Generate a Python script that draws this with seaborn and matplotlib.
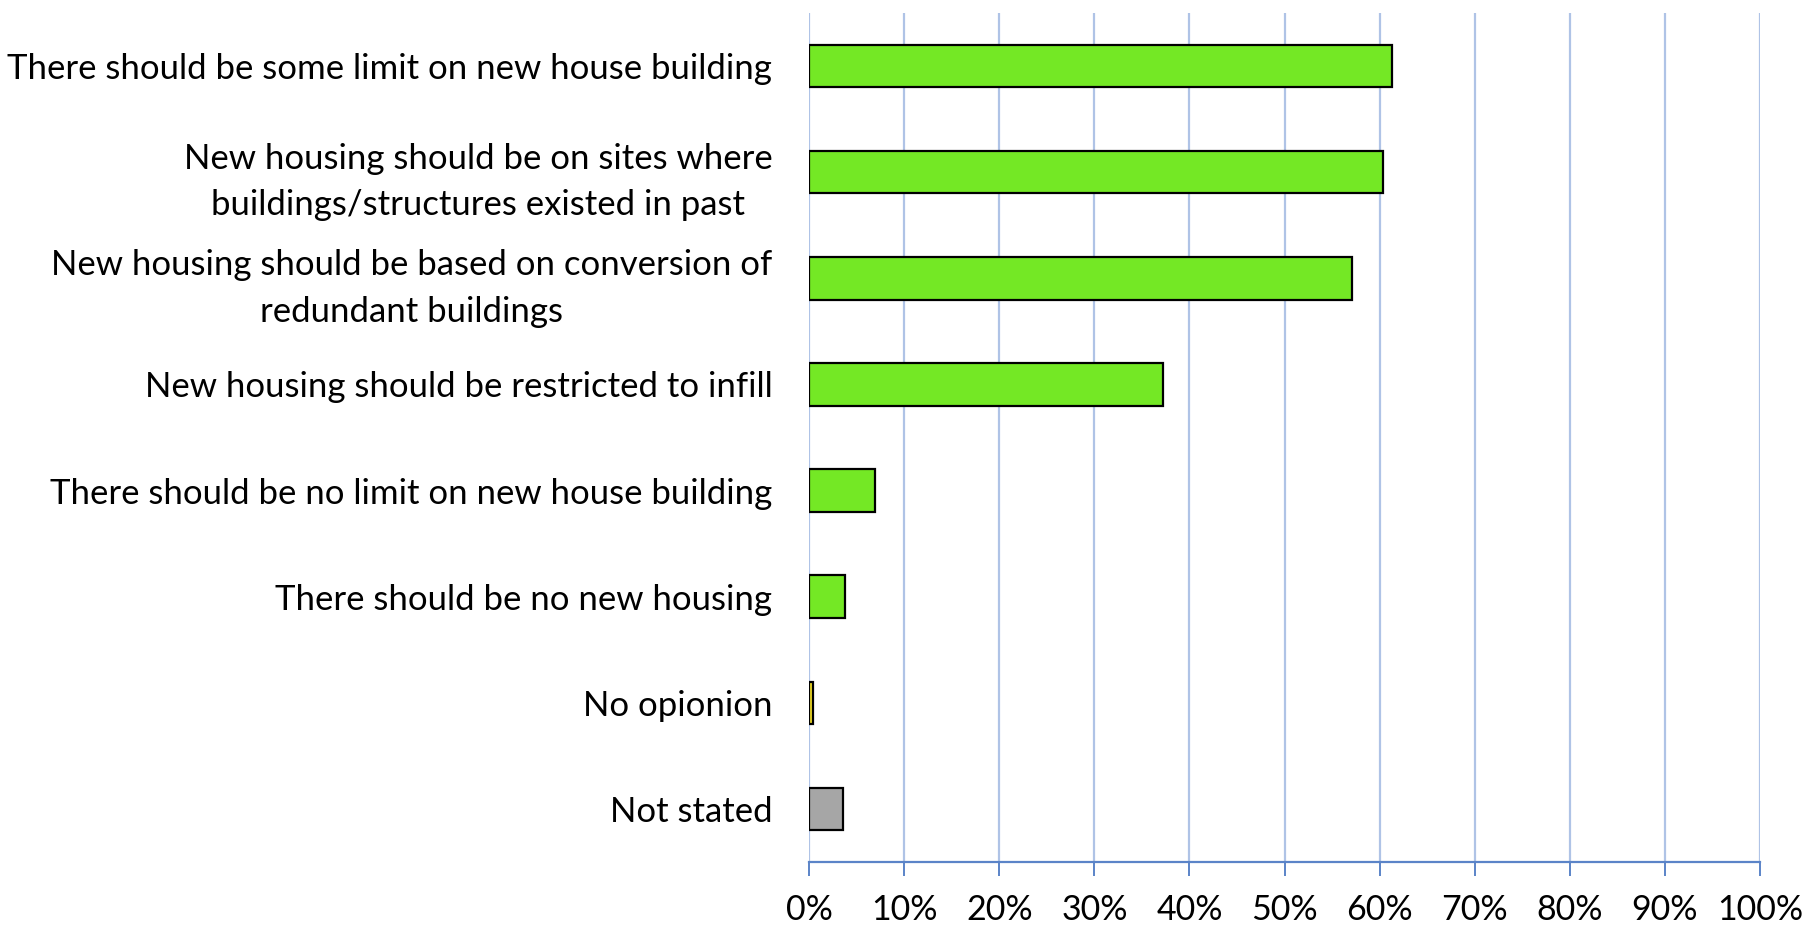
import matplotlib
matplotlib.use("Agg")
import matplotlib.pyplot as plt
import pandas as pd
import seaborn as sns
from matplotlib.ticker import FuncFormatter, MultipleLocator

# Survey answers (share of respondents)
categories = [
    "There should be some limit on new house building",
    "New housing should be on sites where\nbuildings/structures existed in past",
    "New housing should be based on conversion of\nredundant buildings",
    "New housing should be restricted to infill",
    "There should be no limit on new house building",
    "There should be no new housing",
    "No opionion",
    "Not stated",
]
values = [61.3, 60.4, 57.1, 37.2, 6.9, 3.8, 0.4, 3.6]
bar_colors = ["#74E825"] * 6 + ["#F0DC28", "#A6A6A6"]

df = pd.DataFrame({"Answer": categories, "Share": values})

sns.set_style("white")
plt.rcParams["font.family"] = ["Lato", "DejaVu Sans"]

fig = plt.figure(figsize=(18.19, 9.26), dpi=100)
ax = fig.add_axes([0.4448, 0.0691, 0.5228, 0.9169])

sns.barplot(
    data=df, y="Answer", x="Share", hue="Answer", palette=bar_colors,
    legend=False, width=0.4, edgecolor="black", linewidth=1.6,
    saturation=1, ax=ax,
)

ax.set_xlim(0, 100)
ax.set_ylim(7.5, -0.5)
ax.xaxis.set_major_locator(MultipleLocator(10))
ax.xaxis.set_major_formatter(FuncFormatter(lambda v, _: f"{v:.0f}%"))
ax.set_xlabel("")
ax.set_ylabel("")

# light blue vertical gridlines, blue bottom axis
ax.grid(axis="x", color="#AFC3E6", linewidth=1.6)
ax.set_axisbelow(True)
for side in ["top", "right", "left"]:
    ax.spines[side].set_visible(False)
ax.spines["bottom"].set_color("#5B84C8")
ax.spines["bottom"].set_linewidth(1.6)

ax.tick_params(axis="x", bottom=True, length=10, width=1.4, color="#5B84C8",
               labelsize=24.5, pad=13, labelcolor="black")
ax.tick_params(axis="y", left=False, labelsize=25, pad=23, labelcolor="black")
for lbl in ax.get_yticklabels():
    lbl.set_multialignment("center")
    lbl.set_linespacing(1.55)

fig.savefig("out.png", dpi=100)
